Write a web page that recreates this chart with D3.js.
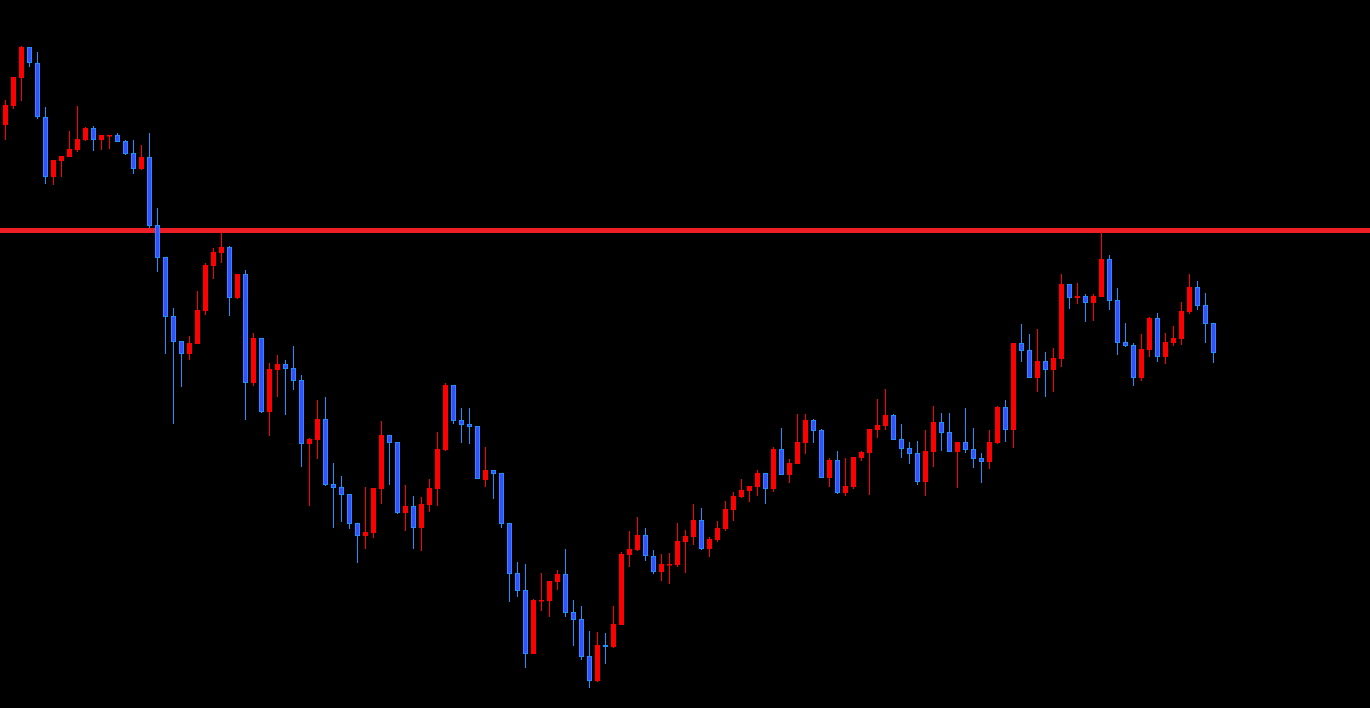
<!DOCTYPE html>
<html>
<head>
<meta charset="utf-8">
<script src="https://cdn.jsdelivr.net/npm/d3@7"></script>
<style>
html,body{margin:0;padding:0;background:#000;overflow:hidden;}
svg{display:block;}
</style>
</head>
<body>
<svg id="chart" width="1370" height="708"></svg>
<script>
const openP = [875,894,922,953,937,883,823,839,843,850,860,872,860,864,865,859,847,831,843,775,
743,684,659,646,656,689,734,747,753,702,726,617,662,588,630,636,632,620,556,560,
581,516,513,506,477,464,467,511,565,558,487,494,472,495,511,550,615,580,576,574,
520,530,527,477,427,410,346,399,399,418,426,388,381,344,319,355,353,375,445,450,
465,444,428,435,435,458,463,480,451,460,471,490,503,509,513,527,511,551,525,536,
557,580,570,522,540,507,513,542,547,570,574,585,561,552,547,518,548,578,568,548,
558,551,542,538,557,593,570,657,650,622,639,630,641,716,702,704,697,703,741,700,
658,655,622,650,682,643,657,661,688,713,695,677];
const highP = [900,923,954,953,948,893,840,844,869,894,873,874,865,865,867,860,860,855,867,792,
743,692,659,664,709,737,752,767,754,726,730,667,662,637,645,640,654,625,562,600,
603,537,524,506,477,513,512,579,565,558,515,504,503,521,568,617,615,592,592,574,
553,530,527,477,438,436,401,427,419,430,451,400,394,369,368,367,394,448,469,483,
472,450,446,447,477,470,496,492,463,479,499,508,521,514,530,527,553,572,541,586,
586,581,571,542,549,542,543,549,571,601,611,586,576,558,559,570,594,587,587,558,
592,572,547,570,594,600,657,676,666,671,648,652,726,716,717,706,706,768,745,712,
677,657,666,683,687,667,674,698,726,719,707,677];
const lowP = [860,891,899,933,881,816,815,823,843,848,859,849,850,851,858,845,826,830,772,728,
646,576,613,640,656,685,721,737,684,701,580,614,587,564,603,585,610,533,494,541,
514,472,478,471,437,451,462,496,515,486,469,451,449,488,494,549,576,557,556,521,
513,501,472,398,403,332,346,389,383,410,383,354,340,312,318,336,352,375,433,449,
439,426,419,416,433,427,455,450,443,458,469,479,502,498,504,496,508,525,517,536,
546,557,522,513,506,504,511,539,505,562,570,560,542,536,515,504,533,549,548,512,
547,532,517,531,556,558,552,638,622,608,603,608,633,691,696,678,679,703,690,645,
653,614,619,643,638,636,654,655,686,690,657,637];
const closeP = [895,923,953,937,883,823,840,844,851,861,872,860,865,865,858,846,831,843,774,742,
683,658,646,657,690,735,748,753,702,726,617,662,588,631,636,631,619,556,561,581,
515,512,505,476,464,468,512,565,557,487,494,472,496,512,551,615,579,575,573,521,
530,526,476,426,409,346,400,400,419,426,387,380,343,319,355,353,376,446,451,465,
444,428,436,436,459,464,480,451,461,472,491,504,510,514,527,511,551,525,537,558,
580,569,522,540,507,514,543,548,571,575,585,560,551,546,518,549,578,567,548,558,
550,541,538,558,593,570,657,649,622,639,630,642,716,702,704,697,704,741,699,657,
654,622,651,682,643,658,662,689,713,694,676,647];
const levelP = [769.5];

const W = 1370, H = 708;
const svg = d3.select("#chart");
svg.append("rect").attr("width", W).attr("height", H).attr("fill", "#000");

const n = openP.length;
const idx = d3.range(n);
const x = d3.scaleLinear().domain([0, n - 1]).range([5, 5 + 8 * (n - 1)]);
const y = d3.scaleLinear().domain([292, 1000]).range([708, 0]);

const candles = idx.map(i => ({i, o: openP[i], h: highP[i], l: lowP[i], c: closeP[i]}));

const upCol = "#ff0000";
const dnWick = "#1e90ff";
const dnFill = "#3c4cff";

const g = svg.append("g");

// horizontal level line
g.selectAll("line.level").data(levelP).join("line")
  .attr("class", "level")
  .attr("x1", 0).attr("x2", W)
  .attr("y1", d => y(d)).attr("y2", d => y(d))
  .attr("stroke", "#ee1e26").attr("stroke-width", 5);

// wicks
g.selectAll("rect.wick").data(candles).join("rect")
  .attr("class", "wick")
  .attr("x", d => Math.round(x(d.i)))
  .attr("width", 1)
  .attr("y", d => y(d.h))
  .attr("height", d => Math.max(1, y(d.l) - y(d.h)))
  .attr("fill", d => d.c >= d.o ? upCol : dnWick);

// up bodies
g.selectAll("rect.up").data(candles.filter(d => d.c >= d.o)).join("rect")
  .attr("class", "up")
  .attr("x", d => Math.round(x(d.i)) - 2)
  .attr("width", 5)
  .attr("y", d => y(d.c))
  .attr("height", d => Math.max(1.5, y(d.o) - y(d.c)))
  .attr("fill", upCol);

// down bodies
g.selectAll("rect.dn").data(candles.filter(d => d.c < d.o)).join("rect")
  .attr("class", "dn")
  .attr("x", d => Math.round(x(d.i)) - 1.5)
  .attr("width", 4)
  .attr("y", d => y(d.o) + 0.5)
  .attr("height", d => Math.max(0.5, y(d.c) - y(d.o) - 1))
  .attr("fill", dnFill)
  .attr("stroke", dnWick)
  .attr("stroke-width", 1);
</script>
</body>
</html>
